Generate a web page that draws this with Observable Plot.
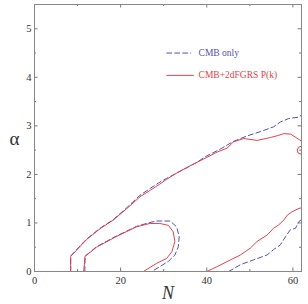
<!DOCTYPE html>
<html><head><meta charset="utf-8">
<script src="https://cdn.jsdelivr.net/npm/d3@7"></script>
<script src="https://cdn.jsdelivr.net/npm/@observablehq/plot@0.6"></script>
<style>body{margin:0;background:#fff}</style>
</head><body><div id="chart"></div>
<script>
// Contours: N values and alpha values
const redOuterN = [8.4, 8.4, 12.0, 15.2, 18.3, 21.5, 24.5, 27.0, 29.1, 30.7, 33.8, 36.9, 40.0, 42.4, 44.7, 46.2, 48.6, 51.7, 54.8, 56.5, 57.9, 59.5, 61.4, 62.5];
const redOuterA = [0, 0.31, 0.65, 0.88, 1.06, 1.30, 1.54, 1.68, 1.80, 1.90, 2.07, 2.21, 2.35, 2.46, 2.54, 2.67, 2.74, 2.70, 2.76, 2.80, 2.84, 2.83, 2.72, 2.66];
const redArcN = [62.5, 61.3, 61.0, 61.2, 62.5];
const redArcA = [2.60, 2.56, 2.50, 2.44, 2.40];
const redInnerN = [11.4, 11.6, 11.7, 14.4, 19.0, 23.7, 26.8, 29.1, 31.1, 32.2, 32.6, 31.9, 30.7, 28.4, 25.3];
const redInnerA = [0, 0.17, 0.31, 0.50, 0.72, 0.92, 0.99, 0.99, 0.95, 0.82, 0.62, 0.41, 0.27, 0.17, 0];
const redLowN = [40.0, 42.4, 45.5, 47.8, 50.1, 51.7, 54.0, 55.5, 56.7, 57.9, 58.7, 59.8, 61.4, 62.5];
const redLowA = [0, 0.10, 0.24, 0.34, 0.48, 0.62, 0.75, 0.89, 0.96, 1.06, 1.16, 1.23, 1.30, 1.32];

const blueOuterN = [8.4, 8.4, 12.0, 15.2, 18.3, 21.5, 24.5, 27.0, 29.1, 30.7, 34.6, 37.5, 40.0, 43.1, 46.2, 49.3, 52.4, 55.5, 57.1, 59.0, 61.4, 62.5];
const blueOuterA = [0, 0.32, 0.66, 0.89, 1.07, 1.32, 1.57, 1.72, 1.84, 1.92, 2.10, 2.24, 2.38, 2.52, 2.68, 2.79, 2.88, 2.98, 3.08, 3.15, 3.18, 3.26];
const blueInnerN = [11.7, 11.7, 11.8, 14.4, 19.0, 23.7, 26.8, 28.4, 31.5, 33.0, 33.6, 33.4, 32.6, 31.1, 29.1, 27.2];
const blueInnerA = [0, 0.17, 0.32, 0.51, 0.73, 0.93, 1.01, 1.04, 1.04, 0.92, 0.72, 0.51, 0.34, 0.21, 0.10, 0];
const blueLowN = [45.1, 47.8, 50.9, 54.0, 55.5, 57.1, 58.3, 59.4, 60.6, 61.4, 62.5];
const blueLowA = [0, 0.14, 0.24, 0.34, 0.45, 0.55, 0.72, 0.86, 0.89, 1.03, 1.10];

// Ticks
const xMajor = [0, 20, 40, 60];
const xMinor = [10, 30, 50];
const yMajor = [0, 1, 2, 3, 4, 5];
const yMinor = [0.5, 1.5, 2.5, 3.5, 4.5];

// Legend
const legendLabels = ["CMB only", "CMB+2dFGRS P(k)"];
const legendN = [30.7, 36.3];
const legendA = [4.5, 4.04];
const legendTextN = 38.1;

const red = "#e3424a";
const blue = "#5252ad";
const serif = "Liberation Serif, Times New Roman, serif";

const toRows = (N, A, id) => N.map((n, i) => ({n, a: A[i], id}));
const redRows = [
  ...toRows(redOuterN, redOuterA, "ro"),
  ...toRows(redArcN, redArcA, "ra"),
  ...toRows(redInnerN, redInnerA, "ri"),
  ...toRows(redLowN, redLowA, "rl")
];
const blueRows = [
  ...toRows(blueOuterN, blueOuterA, "bo"),
  ...toRows(blueInnerN, blueInnerA, "bi"),
  ...toRows(blueLowN, blueLowA, "bl")
];

const W = 308, H = 304;
const mt = 4, mb = 33, ml = 34, mr = 7;
const fh = H - mt - mb, fw = W - ml - mr;
const maj = 3.5, mnr = 2;

const legRows = [
  {n: legendN[0], a: legendA[0], id: 0}, {n: legendN[1], a: legendA[0], id: 0},
  {n: legendN[0], a: legendA[1], id: 1}, {n: legendN[1] + 0.6, a: legendA[1], id: 1}
];

const chart = Plot.plot({
  width: W, height: H,
  marginTop: mt, marginBottom: mb, marginLeft: ml, marginRight: mr,
  style: {fontFamily: serif, background: "#fff"},
  x: {domain: [0, 62]},
  y: {domain: [0, 5.5]},
  marks: [
    Plot.line(blueRows, {x: "n", y: "a", z: "id", stroke: blue, strokeWidth: 1, strokeDasharray: "5,3", clip: true}),
    Plot.line(redRows, {x: "n", y: "a", z: "id", stroke: red, strokeWidth: 1, clip: true}),
    Plot.line(legRows.filter(d => d.id === 0), {x: "n", y: "a", stroke: blue, strokeWidth: 1, strokeDasharray: "5,3"}),
    Plot.line(legRows.filter(d => d.id === 1), {x: "n", y: "a", stroke: red, strokeWidth: 1}),
    Plot.text([legendLabels[0]], {x: legendTextN, y: legendA[0], text: d => d, textAnchor: "start", fill: blue, fontSize: 9.5, fontFamily: serif}),
    Plot.text([legendLabels[1]], {x: legendTextN, y: legendA[1], text: d => d, textAnchor: "start", fill: red, fontSize: 9.5, fontFamily: serif}),
    // inward ticks
    Plot.ruleX(xMajor, {x: d => d, insetTop: fh - maj, stroke: "#777"}),
    Plot.ruleX(xMajor, {x: d => d, insetBottom: fh - maj, stroke: "#777"}),
    Plot.ruleX(xMinor, {x: d => d, insetTop: fh - mnr, stroke: "#777"}),
    Plot.ruleX(xMinor, {x: d => d, insetBottom: fh - mnr, stroke: "#777"}),
    Plot.ruleY(yMajor, {y: d => d, insetRight: fw - maj, stroke: "#777"}),
    Plot.ruleY(yMajor, {y: d => d, insetLeft: fw - maj, stroke: "#777"}),
    Plot.ruleY(yMinor, {y: d => d, insetRight: fw - mnr, stroke: "#777"}),
    Plot.ruleY(yMinor, {y: d => d, insetLeft: fw - mnr, stroke: "#777"}),
    Plot.frame({stroke: "#888"}),
    Plot.axisX(xMajor, {tickSize: 0, tickPadding: 5, fontSize: 10.5, fill: "#333", label: null, fontFamily: serif}),
    Plot.axisY(yMajor, {tickSize: 0, tickPadding: 3, fontSize: 10.5, fill: "#333", label: null, fontFamily: serif}),
    Plot.text(["N"], {frameAnchor: "bottom", dy: 27, text: d => d, fontSize: 18, fontStyle: "italic", fontFamily: serif, fill: "#333"}),
    Plot.text(["α"], {frameAnchor: "left", dx: -25, dy: 1, text: d => d, fontSize: 19, fontFamily: serif, fill: "#333"})
  ]
});
document.getElementById("chart").appendChild(chart);
</script>
</body></html>
